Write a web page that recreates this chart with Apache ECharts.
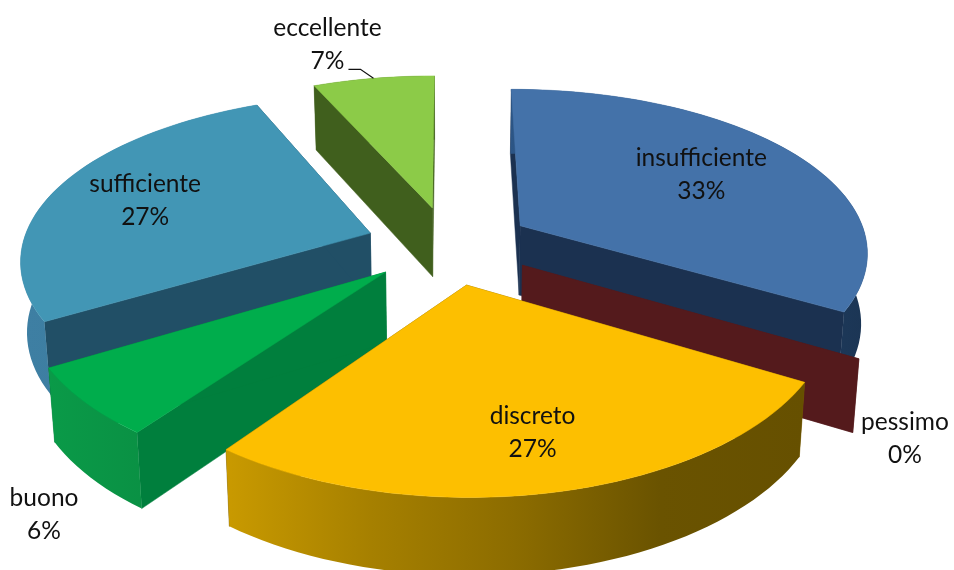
<!DOCTYPE html>
<html>
<head>
<meta charset="utf-8">
<style>html,body{margin:0;padding:0;background:#fff}#c{width:954px;height:570px}</style>
<script src="https://cdn.jsdelivr.net/npm/echarts@6/dist/echarts.min.js"></script>
</head>
<body>
<div id="c"></div>
<script>
const categories = ['insufficiente', 'pessimo', 'discreto', 'buono', 'sufficiente', 'eccellente'];
const values = [33.4, 0, 26.7, 6.4, 26.9, 6.6];

const topColors = ['#4472a9', '#541a1c', '#fdbf00', '#00ad4c', '#4296b5', '#8ccb48'];
const faceColors = ['#1b3150', '#541a1c', '#7a5c00', '#007f3d', '#214f66', '#405f1d'];
const wallStops = [
  ['#2c5585', '#1b3554'], ['#541a1c', '#541a1c'], ['#c99a00', '#a68000', '#8c6c00', '#6a5300', '#665000'],
  ['#0a9a48', '#0a9144'], ['#3e7fa3', '#3a7a9c'], ['#405f1d', '#405f1d']
];
const labelFrac = [0.68, 1.0, 0.7, 1.0, 0.68, 1.0];
const labelNudge = [[-8, 0], [46, 80], [7, 11], [-41, 112], [-11, 0], [-46, -34]];
const leaderSlices = ['eccellente'];

const CX = 449, CY = 245, RX = 348, RY = 164, KX = 0.145, KY = 0.16;
const EXPLODE = 0.24, DEPTH = 70, SHRINK = 0.985, FONT = '24.5px Lato, "Open Sans", sans-serif';

const total = values.reduce((a, b) => a + b, 0);
const rad = d => d * Math.PI / 180;
let acc = 0;
const slices = values.map((v, i) => {
  const a0 = acc / total * 360; acc += v; const a1 = acc / total * 360;
  return { a0, a1, mid: (a0 + a1) / 2 };
});
const paintOrder = slices.map((s, i) => i).sort((p, q) => Math.cos(rad(slices[q].mid)) - Math.cos(rad(slices[p].mid)));

function topPt(s, ang, r) {
  const X = r * Math.sin(rad(ang)) + EXPLODE * Math.sin(rad(s.mid));
  const Y = r * Math.cos(rad(ang)) + EXPLODE * Math.cos(rad(s.mid));
  const wy = 1 + KY * Y;
  return [CX + X * RX / (1 + KX * Y), CY - Y * RY / wy, wy];
}
function lowPt(p) {
  return [CX + (p[0] - CX) * SHRINK, p[1] + DEPTH / Math.sqrt(p[2])];
}
function xy(p) { return [p[0], p[1]]; }
function arcPts(s) {
  const pts = [], n = Math.max(2, Math.ceil((s.a1 - s.a0) / 2));
  for (let k = 0; k <= n; k++) pts.push(topPt(s, s.a0 + (s.a1 - s.a0) * k / n, 1));
  return pts;
}
function poly(points, fill, z2) {
  return {
    type: 'polygon', shape: { points },
    style: { fill, stroke: typeof fill === 'string' ? fill : null, lineWidth: 0.5 },
    z2, silent: true
  };
}
function renderItem(params, api) {
  const i = params.dataIndex, s = slices[i];
  const rank = paintOrder.indexOf(i) * 10 + 10;
  const children = [];
  const apex = topPt(s, 0, 0), apexB = lowPt(apex);
  const start = topPt(s, s.a0, 1), end = topPt(s, s.a1, 1);
  children.push(poly([xy(apex), xy(start), lowPt(start), apexB], faceColors[i], rank));
  children.push(poly([xy(apex), xy(end), lowPt(end), apexB], faceColors[i], rank + 1));
  if (api.value(0) > 0) {
    const pts = arcPts(s);
    const wall = pts.map(xy).concat(pts.slice().reverse().map(lowPt));
    const st = wallStops[i];
    children.push(poly(wall, {
      type: 'linear', x: 0, y: 0, x2: 1, y2: 0,
      colorStops: st.map((c, k) => ({ offset: k / (st.length - 1), color: c }))
    }, rank + 2));
    children.push(poly([xy(apex)].concat(pts.map(xy)), topColors[i], rank + 3));
  }
  const lp = topPt(s, s.mid, labelFrac[i]);
  const lx = lp[0] + labelNudge[i][0], ly = lp[1] + labelNudge[i][1];
  children.push({
    type: 'text', z2: 500, silent: true,
    style: {
      x: lx, y: ly, text: categories[i] + '\n' + Math.round(api.value(0)) + '%',
      fill: '#111', font: FONT, lineHeight: 33, align: 'center', verticalAlign: 'middle'
    }
  });
  if (leaderSlices.includes(categories[i])) {
    const o = topPt(s, s.mid, 1);
    children.push({
      type: 'polyline', z2: 501, silent: true,
      shape: { points: [[lx + 21, ly + 25], [lx + 33, ly + 25], xy(o)] },
      style: { stroke: '#111', lineWidth: 1.2, fill: null }
    });
  }
  return { type: 'group', children };
}
const chart = echarts.init(document.getElementById('c'), null, { renderer: 'canvas' });
chart.setOption({
  animation: false,
  backgroundColor: '#fff',
  series: [{
    type: 'custom', coordinateSystem: 'none', renderItem,
    data: values.map((v, i) => ({ name: categories[i], value: [v] }))
  }]
});
</script>
</body>
</html>
